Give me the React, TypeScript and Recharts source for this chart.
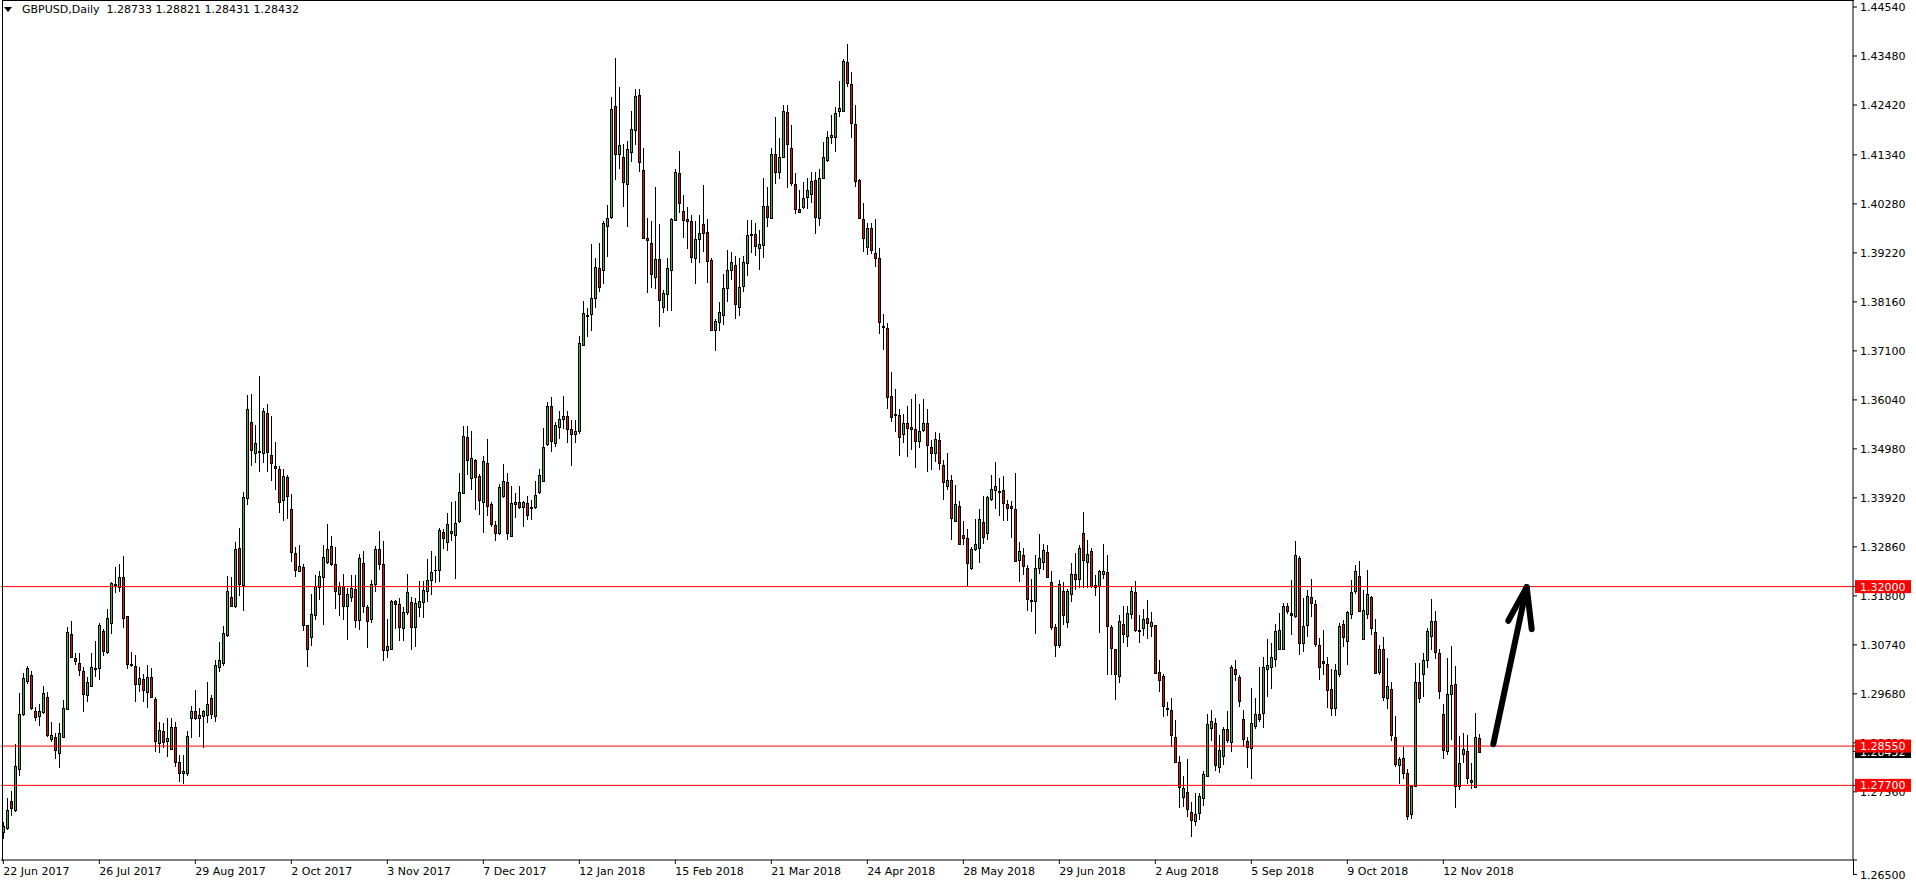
import { ComposedChart, Bar, XAxis, YAxis, ReferenceLine } from 'recharts';

// GBPUSD daily candles, 22 Jun 2017 .. 23 Nov 2018
const opens = [
  1.2668,1.2678,1.2736,1.2716,1.2805,1.2924,1.2995,1.3008,1.2930,1.2919,
  1.2929,1.2961,1.2871,1.2874,1.2841,1.2874,1.2936,1.3098,1.3046,1.3035,
  1.3017,1.2965,1.2984,1.3021,1.3023,1.3105,1.3059,1.3122,1.3203,1.3200,
  1.3221,1.3136,1.3032,1.3028,1.2989,1.3000,1.2971,1.3004,1.2957,1.2861,
  1.2888,1.2865,1.2849,1.2896,1.2821,1.2796,1.2796,1.2915,1.2931,1.2916,
  1.2919,1.2922,1.2959,1.2921,1.3025,1.3035,1.3095,1.3177,1.3159,1.3284,
  1.3204,1.3391,1.3556,1.3488,1.3492,1.3490,1.3576,1.3485,1.3461,1.3454,
  1.3387,1.3437,1.3368,1.3273,1.3233,1.3242,1.3118,1.3092,1.3139,1.3200,
  1.3220,1.3254,1.3288,1.3249,1.3183,1.3201,1.3157,1.3178,1.3195,1.3127,
  1.3252,1.3155,1.3129,1.3205,1.3281,1.3248,1.3063,1.3066,1.3169,1.3162,
  1.3110,1.3144,1.3166,1.3113,1.3155,1.3167,1.3191,1.3214,1.3235,1.3235,
  1.3318,1.3297,1.3317,1.3311,1.3343,1.3403,1.3524,1.3436,1.3474,1.3440,
  1.3384,1.3467,1.3379,1.3333,1.3317,1.3395,1.3426,1.3310,1.3379,1.3382,
  1.3372,1.3380,1.3371,1.3372,1.3404,1.3429,1.3509,1.3591,1.3510,1.3545,
  1.3562,1.3570,1.3540,1.3530,1.3537,1.3723,1.3785,1.3789,1.3824,1.3889,
  1.3884,1.3980,1.4000,1.4239,1.4137,1.4129,1.4070,1.4141,1.4187,1.4263,
  1.4101,1.3954,1.3943,1.3869,1.3908,1.3804,1.3832,1.3886,1.3994,1.4094,
  1.4012,1.3995,1.3992,1.3912,1.3951,1.3984,1.3967,1.3906,1.3755,1.3772,
  1.3788,1.3845,1.3886,1.3896,1.3806,1.3850,1.3901,1.3961,1.3962,1.3933,
  1.3940,1.4023,1.3998,1.4136,1.4096,1.4130,1.4226,1.4150,1.4072,1.4017,
  1.4022,1.4042,1.4050,1.4079,1.3998,1.4085,1.4124,1.4172,1.4172,1.4228,
  1.4228,1.4334,1.4287,1.4201,1.4079,1.3995,1.3934,1.3975,1.3921,1.3910,
  1.3764,1.3759,1.3612,1.3573,1.3571,1.3531,1.3555,1.3545,1.3542,1.3514,
  1.3539,1.3553,1.3501,1.3488,1.3518,1.3463,1.3418,1.3431,1.3342,1.3374,
  1.3312,1.3305,1.3240,1.3282,1.3283,1.3339,1.3315,1.3389,1.3408,1.3405,
  1.3409,1.3379,1.3374,1.3368,1.3258,1.3268,1.3240,1.3172,1.3168,1.3240,
  1.3254,1.3275,1.3211,1.3112,1.3074,1.3191,1.3124,1.3185,1.3227,1.3216,
  1.3315,1.3254,1.3276,1.3200,1.3202,1.3227,1.3231,1.3112,1.3064,1.3007,
  1.3120,1.3094,1.3140,1.3188,1.3107,1.3111,1.3133,1.3115,1.3116,1.3015,
  1.3007,1.2937,1.2934,1.2874,1.2820,1.2744,1.2755,1.2713,1.2692,1.2711,
  1.2742,1.2791,1.2895,1.2904,1.2809,1.2834,1.2893,1.2864,1.3021,1.3004,
  1.2913,1.2866,1.2850,1.2898,1.2924,1.2926,1.3021,1.3025,1.3043,1.3066,
  1.3066,1.3158,1.3142,1.3136,1.3261,1.3077,1.3116,1.3178,1.3162,1.3074,
  1.3039,1.3033,1.2979,1.2938,1.3012,1.3119,1.3083,1.3140,1.3191,1.3222,
  1.3087,1.3140,1.3178,1.3102,1.3016,1.3064,1.2958,1.2979,1.2875,1.2813,
  1.2829,1.2796,1.2707,1.2769,1.2993,1.3010,1.3041,1.3094,1.3126,1.3056,
  1.2924,1.2845,1.2968,1.2989,1.2769,1.2837,1.2844,1.2782,1.2767,1.28733,
];

const highs = [
  1.2691,1.2742,1.2758,1.2860,1.2969,1.3013,1.3028,1.3017,1.2939,1.2946,
  1.2984,1.2973,1.2906,1.2884,1.2904,1.2955,1.3112,1.3126,1.3056,1.3056,
  1.3026,1.3005,1.3056,1.3082,1.3122,1.3109,1.3151,1.3210,1.3243,1.3249,
  1.3266,1.3137,1.3058,1.3053,1.3027,1.3010,1.3030,1.3023,1.2961,1.2906,
  1.2904,1.2915,1.2915,1.2906,1.2836,1.2836,1.2888,1.2942,1.2976,1.2938,
  1.2934,1.2994,1.2965,1.3041,1.3081,1.3115,1.3224,1.3221,1.3297,1.3327,
  1.3405,1.3615,1.3617,1.3550,1.3656,1.3586,1.3595,1.3570,1.3513,1.3461,
  1.3454,1.3441,1.3400,1.3286,1.3290,1.3249,1.3118,1.3183,1.3225,1.3234,
  1.3290,1.3336,1.3309,1.3286,1.3210,1.3227,1.3198,1.3225,1.3225,1.3271,
  1.3277,1.3160,1.3214,1.3288,1.3320,1.3299,1.3131,1.3172,1.3172,1.3176,
  1.3155,1.3227,1.3178,1.3175,1.3212,1.3212,1.3260,1.3277,1.3266,1.3326,
  1.3324,1.3359,1.3382,1.3385,1.3445,1.3548,1.3548,1.3537,1.3477,1.3444,
  1.3483,1.3519,1.3384,1.3342,1.3423,1.3465,1.3445,1.3418,1.3402,1.3418,
  1.3385,1.3395,1.3387,1.3428,1.3454,1.3543,1.3599,1.3610,1.3557,1.3580,
  1.3613,1.3580,1.3560,1.3560,1.3742,1.3818,1.3802,1.3941,1.3910,1.3943,
  1.3990,1.4025,1.4259,1.4343,1.4282,1.4158,1.4164,1.4230,1.4277,1.4277,
  1.4148,1.3998,1.3991,1.4064,1.3985,1.3842,1.3910,1.3997,1.4104,1.4143,
  1.4047,1.4022,1.4005,1.3990,1.4004,1.4069,1.3995,1.3910,1.3780,1.3816,
  1.3876,1.3928,1.3923,1.3916,1.3910,1.3915,1.3993,1.3993,1.3986,1.3972,
  1.4085,1.4064,1.4150,1.4216,1.4170,1.4242,1.4242,1.4199,1.4094,1.4058,
  1.4075,1.4085,1.4096,1.4096,1.4104,1.4162,1.4185,1.4220,1.4238,1.4294,
  1.4341,1.4373,1.4313,1.4243,1.4081,1.4029,1.3986,1.3986,1.3995,1.3932,
  1.3789,1.3770,1.3664,1.3627,1.3584,1.3573,1.3591,1.3606,1.3616,1.3595,
  1.3606,1.3584,1.3517,1.3535,1.3532,1.3474,1.3488,1.3442,1.3420,1.3385,
  1.3341,1.3325,1.3286,1.3346,1.3367,1.3396,1.3397,1.3442,1.3470,1.3436,
  1.3439,1.3387,1.3385,1.3445,1.3297,1.3283,1.3247,1.3217,1.3268,1.3314,
  1.3292,1.3291,1.3234,1.3119,1.3214,1.3211,1.3194,1.3250,1.3272,1.3289,
  1.3361,1.3301,1.3283,1.3225,1.3236,1.3292,1.3268,1.3117,1.3064,1.3139,
  1.3158,1.3158,1.3200,1.3212,1.3139,1.3152,1.3171,1.3144,1.3118,1.3041,
  1.3011,1.2951,1.2958,1.2911,1.2834,1.2790,1.2826,1.2735,1.2754,1.2754,
  1.2800,1.2924,1.2934,1.2916,1.2879,1.2897,1.2931,1.3030,1.3041,1.3008,
  1.2933,1.2875,1.2980,1.2960,1.3027,1.3048,1.3086,1.3077,1.3119,1.3142,
  1.3164,1.3164,1.3214,1.3298,1.3267,1.3175,1.3193,1.3217,1.3171,1.3088,
  1.3106,1.3047,1.3022,1.3033,1.3122,1.3128,1.3147,1.3214,1.3247,1.3255,
  1.3193,1.3236,1.3180,1.3129,1.3074,1.3090,1.3045,1.2994,1.2919,1.2832,
  1.2852,1.2805,1.2769,1.3034,1.3034,1.3056,1.3110,1.3173,1.3148,1.3066,
  1.2945,1.3045,1.3072,1.3028,1.2877,1.2883,1.2878,1.2818,1.2926,1.28821,
];

const lows = [
  1.2653,1.2673,1.2704,1.2713,1.2791,1.2919,1.2989,1.2933,1.2910,1.2898,
  1.2924,1.2875,1.2864,1.2827,1.2808,1.2873,1.2932,1.3045,1.3030,1.3007,
  1.2929,1.2951,1.2983,1.3005,1.2998,1.3050,1.3055,1.3097,1.3187,1.3189,
  1.3110,1.3022,1.3026,1.2951,1.2973,1.2951,1.2937,1.2958,1.2843,1.2839,
  1.2850,1.2831,1.2848,1.2810,1.2777,1.2772,1.2791,1.2872,1.2911,1.2875,
  1.2850,1.2904,1.2914,1.2906,1.3016,1.3029,1.3092,1.3156,1.3154,1.3180,
  1.3148,1.3377,1.3462,1.3467,1.3449,1.3467,1.3447,1.3429,1.3408,1.3360,
  1.3341,1.3346,1.3254,1.3220,1.3231,1.3105,1.3025,1.3072,1.3128,1.3172,
  1.3118,1.3249,1.3245,1.3152,1.3137,1.3128,1.3085,1.3167,1.3111,1.3107,
  1.3143,1.3068,1.3121,1.3189,1.3237,1.3040,1.3045,1.3063,1.3108,1.3083,
  1.3083,1.3139,1.3063,1.3070,1.3135,1.3133,1.3167,1.3182,1.3207,1.3211,
  1.3281,1.3276,1.3298,1.3216,1.3338,1.3403,1.3441,1.3409,1.3366,1.3355,
  1.3317,1.3353,1.3328,1.3299,1.3312,1.3391,1.3300,1.3308,1.3348,1.3368,
  1.3328,1.3344,1.3344,1.3368,1.3400,1.3426,1.3504,1.3492,1.3503,1.3519,
  1.3540,1.3510,1.3460,1.3510,1.3530,1.3721,1.3739,1.3754,1.3802,1.3838,
  1.3854,1.3914,1.3995,1.4080,1.4104,1.4022,1.3977,1.4119,1.4156,1.4098,
  1.3951,1.3835,1.3845,1.3844,1.3762,1.3793,1.3797,1.3797,1.3990,1.4008,
  1.3955,1.3930,1.3901,1.3854,1.3901,1.3925,1.3856,1.3753,1.3710,1.3753,
  1.3766,1.3815,1.3863,1.3779,1.3786,1.3838,1.3871,1.3921,1.3916,1.3885,
  1.3910,1.3979,1.3996,1.4072,1.4082,1.4128,1.4063,1.4067,1.4007,1.4009,
  1.4016,1.4018,1.4029,1.3962,1.3981,1.4082,1.4118,1.4158,1.4141,1.4217,
  1.4227,1.4280,1.4170,1.4065,1.3995,1.3923,1.3917,1.3920,1.3892,1.3746,
  1.3711,1.3585,1.3557,1.3535,1.3483,1.3511,1.3481,1.3496,1.3457,1.3499,
  1.3535,1.3449,1.3452,1.3470,1.3452,1.3387,1.3409,1.3301,1.3341,1.3290,
  1.3290,1.3202,1.3237,1.3276,1.3252,1.3292,1.3301,1.3385,1.3368,1.3352,
  1.3341,1.3343,1.3306,1.3254,1.3209,1.3225,1.3148,1.3144,1.3098,1.3227,
  1.3237,1.3219,1.3106,1.3047,1.3067,1.3117,1.3111,1.3167,1.3193,1.3198,
  1.3198,1.3196,1.3198,1.3180,1.3100,1.3216,1.3009,1.3009,1.2955,1.2991,
  1.3079,1.3070,1.3131,1.3102,1.3079,1.3093,1.3086,1.3092,1.3012,1.2973,
  1.2917,1.2919,1.2852,1.2818,1.2720,1.2724,1.2702,1.2659,1.2682,1.2695,
  1.2725,1.2790,1.2867,1.2802,1.2797,1.2814,1.2861,1.2843,1.2996,1.2940,
  1.2852,1.2808,1.2783,1.2892,1.2906,1.2895,1.2962,1.2978,1.3025,1.3065,
  1.3065,1.3141,1.3095,1.3133,1.3052,1.3059,1.3092,1.3135,1.3070,1.2997,
  1.3009,1.2938,1.2919,1.2919,1.3005,1.3069,1.3030,1.3130,1.3185,1.3144,
  1.3085,1.3130,1.3095,1.3011,1.3009,1.2953,1.2935,1.2865,1.2809,1.2774,
  1.2783,1.2694,1.2697,1.2766,1.2949,1.2962,1.3023,1.3063,1.3043,1.2956,
  1.2826,1.2836,1.2868,1.2722,1.2759,1.2818,1.2774,1.2762,1.2766,1.28431,
];

const closes = [
  1.2682,1.2717,1.2720,1.2812,1.2924,1.3002,1.3024,1.2938,1.2917,1.2930,
  1.2969,1.2880,1.2878,1.2846,1.2883,1.2937,1.3102,1.3048,1.3038,1.3020,
  1.2968,1.2993,1.3026,1.3024,1.3117,1.3061,1.3132,1.3208,1.3206,1.3220,
  1.3133,1.3033,1.3030,1.2990,1.3002,1.2976,1.3004,1.2962,1.2865,1.2889,
  1.2864,1.2873,1.2896,1.2820,1.2797,1.2802,1.2876,1.2931,1.2916,1.2922,
  1.2931,1.2947,1.2925,1.3030,1.3041,1.3100,1.3190,1.3159,1.3281,1.3206,
  1.3393,1.3584,1.3495,1.3511,1.3493,1.3580,1.3492,1.3467,1.3456,1.3384,
  1.3439,1.3395,1.3274,1.3237,1.3245,1.3116,1.3064,1.3141,1.3201,1.3223,
  1.3264,1.3281,1.3248,1.3191,1.3202,1.3157,1.3184,1.3196,1.3128,1.3262,
  1.3159,1.3125,1.3205,1.3281,1.3248,1.3063,1.3072,1.3169,1.3163,1.3112,
  1.3144,1.3188,1.3112,1.3164,1.3169,1.3193,1.3214,1.3231,1.3236,1.3322,
  1.3306,1.3335,1.3320,1.3338,1.3404,1.3526,1.3473,1.3478,1.3438,1.3388,
  1.3472,1.3375,1.3336,1.3315,1.3415,1.3428,1.3317,1.3381,1.3382,1.3373,
  1.3382,1.3356,1.3372,1.3398,1.3441,1.3503,1.3591,1.3514,1.3549,1.3562,
  1.3570,1.3540,1.3530,1.3537,1.3726,1.3793,1.3788,1.3824,1.3891,1.3848,
  1.3986,1.3997,1.4233,1.4137,1.4155,1.4075,1.4146,1.4189,1.4261,1.4119,
  1.3955,1.3949,1.3877,1.3908,1.3821,1.3835,1.3889,1.3995,1.4097,1.4029,
  1.3994,1.3992,1.3914,1.3951,1.3966,1.3964,1.3905,1.3755,1.3774,1.3795,
  1.3845,1.3886,1.3902,1.3811,1.3848,1.3902,1.3960,1.3963,1.3936,1.3941,
  1.4023,1.3999,1.4136,1.4098,1.4129,1.4228,1.4157,1.4074,1.4018,1.4011,
  1.4040,1.4058,1.4078,1.4000,1.4085,1.4129,1.4173,1.4177,1.4225,1.4235,
  1.4337,1.4289,1.4202,1.4078,1.3998,1.3954,1.3975,1.3928,1.3910,1.3773,
  1.3762,1.3611,1.3568,1.3571,1.3523,1.3555,1.3544,1.3542,1.3514,1.3537,
  1.3553,1.3506,1.3488,1.3520,1.3467,1.3427,1.3431,1.3348,1.3378,1.3292,
  1.3306,1.3252,1.3281,1.3292,1.3346,1.3308,1.3394,1.3411,1.3418,1.3407,
  1.3380,1.3369,1.3369,1.3256,1.3276,1.3244,1.3173,1.3168,1.3240,1.3261,
  1.3279,1.3220,1.3112,1.3074,1.3205,1.3139,1.3191,1.3227,1.3217,1.3283,
  1.3257,1.3271,1.3202,1.3204,1.3234,1.3234,1.3114,1.3067,1.3012,1.3126,
  1.3097,1.3142,1.3190,1.3107,1.3105,1.3131,1.3122,1.3123,1.3014,1.2999,
  1.2941,1.2936,1.2880,1.2821,1.2766,1.2764,1.2718,1.2696,1.2709,1.2748,
  1.2794,1.2902,1.2910,1.2813,1.2846,1.2891,1.2868,1.3026,1.3010,1.2953,
  1.2870,1.2852,1.2904,1.2924,1.2913,1.3026,1.3030,1.3047,1.3104,1.3106,
  1.3158,1.3147,1.3138,1.3268,1.3077,1.3115,1.3180,1.3164,1.3076,1.3027,
  1.3035,1.2976,1.2937,1.3020,1.3115,1.3090,1.3144,1.3189,1.3234,1.3147,
  1.3149,1.3183,1.3111,1.3014,1.3065,1.2962,1.2984,1.2878,1.2816,1.2827,
  1.2796,1.2704,1.2769,1.2993,1.2958,1.3041,1.3105,1.3126,1.3059,1.2975,
  1.2847,1.2968,1.2987,1.2769,1.2818,1.2848,1.2785,1.2777,1.2874,1.28432,
];

// time axis labels, one every 24 bars
const dateLabels = [
  '22 Jun 2017', '26 Jul 2017', '29 Aug 2017', '2 Oct 2017', '3 Nov 2017', '7 Dec 2017',
  '12 Jan 2018', '15 Feb 2018', '21 Mar 2018', '24 Apr 2018', '28 May 2018', '29 Jun 2018',
  '2 Aug 2018', '5 Sep 2018', '9 Oct 2018', '12 Nov 2018',
];
const dateLabelBars = [0, 24, 48, 72, 96, 120, 144, 168, 192, 216, 240, 264, 288, 312, 336, 360];

// price scale
const priceTicks = [
  1.4454, 1.4348, 1.4242, 1.4134, 1.4028, 1.3922, 1.3816, 1.371, 1.3604,
  1.3498, 1.3392, 1.3286, 1.318, 1.3074, 1.2968, 1.2862, 1.2756, 1.26085,
];
const priceTickLabels = [
  '1.44540', '1.43480', '1.42420', '1.41340', '1.40280', '1.39220', '1.38160', '1.37100', '1.36040',
  '1.34980', '1.33920', '1.32860', '1.31800', '1.30740', '1.29680', '1.28620', '1.27560', '1.26500',
];

// horizontal levels drawn on the chart, and the current bid
const levels = [1.32, 1.2855, 1.277];
const levelLabels = ['1.32000', '1.28550', '1.27700'];
const lastPrice = 1.28432;

// hand-drawn arrow (bar index, price)
const arrowShaft = [{ x: 372.5, y: 1.2859 }, { x: 380.85, y: 1.3199 }];
const arrowHeadLeft = [{ x: 376.25, y: 1.3126 }, { x: 380.85, y: 1.3199 }];
const arrowHeadRight = [{ x: 382.1, y: 1.3108 }, { x: 380.85, y: 1.3199 }];

const FONT = '"DejaVu Sans", sans-serif';
const UP = '#3cb43c';
const DOWN = '#e01010';

const data = closes.map((c, i) => ({
  idx: i,
  open: opens[i],
  high: highs[i],
  low: lows[i],
  close: c,
  range: [lows[i], highs[i]],
}));

// price tags on the scale: bid first so the red tags are painted over it
const tagValues = [lastPrice, ...levels];
const tagTexts = [lastPrice.toFixed(5), ...levelLabels];
const tagColors = ['#000', '#ff0000', '#ff0000', '#ff0000'];
const axisTicks = [...priceTicks, ...tagValues];

function Candle(props: any) {
  const { x, y, width, height, payload } = props;
  if (x == null || y == null || !height) return null;
  const { open, high, low, close } = payload;
  const k = height / (high - low);
  const yOf = (p: number) => y + (high - p) * k;
  const col = Math.floor(x + width / 2);
  const cx = col + 0.5;
  const top = Math.round(yOf(Math.max(open, close)));
  const bot = Math.round(yOf(Math.min(open, close)));
  const up = close >= open;
  return (
    <g>
      <line x1={cx} x2={cx} y1={Math.round(y)} y2={Math.round(y + height)} stroke="#000" strokeWidth={1} />
      {bot - top < 1 ? (
        <line x1={col - 1} x2={col + 2} y1={top + 0.5} y2={top + 0.5} stroke="#000" strokeWidth={1} />
      ) : (
        <rect x={col - 0.5} y={top + 0.5} width={2} height={bot - top} fill={up ? UP : DOWN} stroke="#000" strokeWidth={1} />
      )}
    </g>
  );
}

function DateTick(props: any) {
  const { x, y, payload } = props;
  const k = dateLabelBars.indexOf(payload.value);
  return (
    <text x={x} y={y + 9} fontSize={11} fontFamily={FONT} fill="#000">
      {dateLabels[k]}
    </text>
  );
}

function PriceTick(props: any) {
  const { x, y, payload, index } = props;
  // tags come after the plain labels in the ticks list, so they paint on top
  if (index >= priceTicks.length) {
    const t = tagValues.indexOf(payload.value);
    const left = x - 5;
    return (
      <g>
        <rect x={left} y={y - 6.5} width={56} height={13} fill={tagColors[t]} />
        <text x={left + 5} y={y + 4} fontSize={11} fontFamily={FONT} fill="#fff">
          {tagTexts[t]}
        </text>
      </g>
    );
  }
  const k = priceTicks.indexOf(payload.value);
  if (k === priceTicks.length - 1) {
    // MT4 prints the bottom price just under the time axis line
    const ax = x - 7;
    return (
      <g>
        <line x1={ax + 0.5} x2={ax + 0.5} y1={y} y2={y + 15} stroke="#000" />
        <line x1={ax} x2={ax + 4} y1={y + 14.5} y2={y + 14.5} stroke="#000" />
        <text x={x} y={y + 19} fontSize={11} fontFamily={FONT} fill="#000">
          {priceTickLabels[k]}
        </text>
      </g>
    );
  }
  return (
    <text x={x} y={y + 4} fontSize={11} fontFamily={FONT} fill="#000">
      {priceTickLabels[k]}
    </text>
  );
}

export default function App() {
  const last = closes.length - 1;
  const header = `GBPUSD,Daily  ${opens[last].toFixed(5)} ${highs[last].toFixed(5)} ${lows[last].toFixed(5)} ${closes[last].toFixed(5)}`;
  return (
    <div style={{ position: 'absolute', left: 0, top: 0, width: 1916, height: 884, background: '#fff' }}>
      <ComposedChart
        width={1916}
        height={884}
        data={data}
        margin={{ top: 1, right: 0, left: 1, bottom: 0 }}
      >
        <XAxis
          dataKey="idx"
          type="number"
          domain={[-0.575, 462.425]}
          allowDataOverflow
          ticks={dateLabelBars}
          interval={0}
          height={24}
          tickSize={4}
          tickMargin={2}
          axisLine={{ stroke: '#000' }}
          tickLine={{ stroke: '#000' }}
          tick={<DateTick />}
        />
        <YAxis
          orientation="right"
          type="number"
          domain={[1.26085, 1.4467]}
          allowDataOverflow
          ticks={axisTicks}
          interval={0}
          width={63}
          tickSize={4}
          tickMargin={3}
          axisLine={{ stroke: '#000' }}
          tickLine={{ stroke: '#000' }}
          tick={<PriceTick />}
        />
        <Bar dataKey="range" shape={<Candle />} isAnimationActive={false} />
        {levels.map((v) => (
          <ReferenceLine key={v} y={v} stroke="#ff0000" strokeWidth={1} />
        ))}
        <ReferenceLine segment={arrowShaft} stroke="#000" strokeWidth={6} strokeLinecap="round" />
        <ReferenceLine segment={arrowHeadLeft} stroke="#000" strokeWidth={6} strokeLinecap="round" />
        <ReferenceLine segment={arrowHeadRight} stroke="#000" strokeWidth={6} strokeLinecap="round" />
      </ComposedChart>
      <div
        style={{
          position: 'absolute',
          left: 2,
          top: 0,
          width: 1852,
          height: 861,
          borderLeft: '1px solid #000',
          borderTop: '1px solid #000',
          boxSizing: 'border-box',
          pointerEvents: 'none',
        }}
      />
      <div
        style={{
          position: 'absolute',
          left: 4,
          top: 3,
          display: 'flex',
          alignItems: 'center',
          fontFamily: FONT,
          fontSize: 11,
          color: '#000',
          whiteSpace: 'pre',
          lineHeight: '14px',
        }}
      >
        <svg width={8} height={6} style={{ marginRight: 10 }}>
          <path d="M0 0 L8 0 L4 5 Z" fill="#000" />
        </svg>
        <span>{header}</span>
      </div>
    </div>
  );
}
